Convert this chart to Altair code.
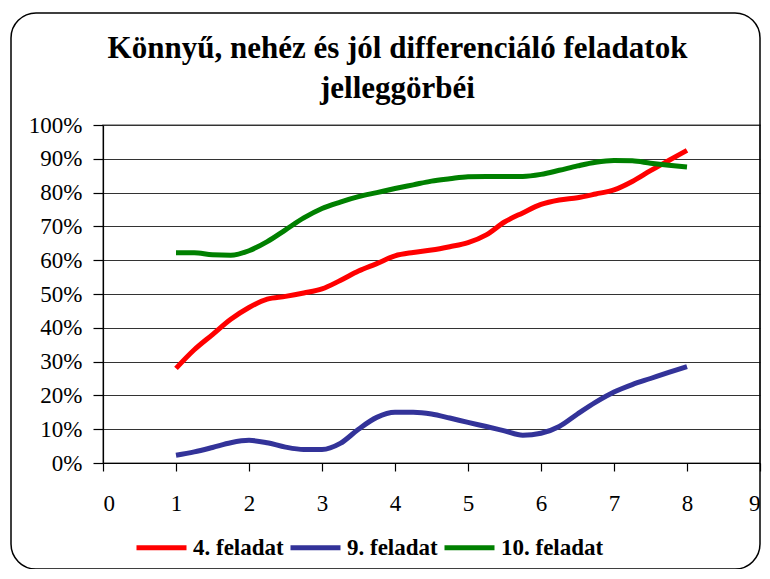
import altair as alt
import pandas as pd

# x positions (quarter steps)
xs = [1, 1.25, 1.5, 1.75, 2, 2.25, 2.5, 2.75, 3, 3.25, 3.5, 3.75, 4, 4.25, 4.5,
      4.75, 5, 5.25, 5.5, 5.75, 6, 6.25, 6.5, 6.75, 7, 7.25, 7.5, 7.75, 8]

series_names = ["4. feladat", "9. feladat", "10. feladat"]
series_colors = ["#FF0000", "#333399", "#008000"]

feladat4 = [28, 33.5, 38, 42.5, 46, 48.5, 49.3, 50.3, 51.5, 54, 56.8, 59, 61.3, 62.3, 63,
            64, 65.2, 67.5, 71.3, 74, 76.5, 77.8, 78.5, 79.6, 80.8, 83.3, 86.5, 89.5, 92.5]
feladat9 = [2.3, 3.3, 4.6, 6, 6.7, 6, 4.7, 4, 4, 5.8, 10, 13.5, 15, 15, 14.5,
            13.3, 12, 10.8, 9.5, 8.2, 8.8, 10.8, 14.5, 18, 21, 23.2, 25, 26.8, 28.5]
feladat10 = [62.2, 62.2, 61.6, 61.5, 62.8, 65.5, 69, 72.5, 75.3, 77.2, 78.8, 80, 81.2, 82.3, 83.4,
             84.1, 84.7, 84.8, 84.8, 84.8, 85.4, 86.6, 87.9, 89, 89.5, 89.4, 88.7, 88.1, 87.6]

x_ticks = [0, 1, 2, 3, 4, 5, 6, 7, 8, 9]
y_ticks = [0, 0.1, 0.2, 0.3, 0.4, 0.5, 0.6, 0.7, 0.8, 0.9, 1.0]

title_lines = ["Könnyű, nehéz és jól differenciáló feladatok", "jelleggörbéi"]

rows = []
for name, vals in zip(series_names, [feladat4, feladat9, feladat10]):
    for i, (x, v) in enumerate(zip(xs, vals)):
        rows.append({"x": x, "value": v / 100.0, "series": name, "order": i})
df = pd.DataFrame(rows)

FONT = "Liberation Serif, Times New Roman, Times, DejaVu Serif, serif"

lines = alt.Chart(df).mark_line(strokeWidth=5, interpolate="monotone").encode(
    x=alt.X("x:Q", scale=alt.Scale(domain=[0, 9], nice=False, zero=False),
            axis=alt.Axis(values=x_ticks, title=None, grid=False, tickSize=8,
                          labelPadding=21, labelAngle=0, format="d",
                          labelFont=FONT)),
    y=alt.Y("value:Q", scale=alt.Scale(domain=[0, 1], nice=False),
            axis=alt.Axis(values=y_ticks, title=None, format=".0%", grid=True,
                          tickSize=10, labelPadding=11, labelFont=FONT)),
    color=alt.Color("series:N",
                    scale=alt.Scale(domain=series_names, range=series_colors),
                    legend=alt.Legend(title=None, orient="none", legendX=31, legendY=395,
                                      direction="horizontal", symbolType="stroke",
                                      symbolStrokeWidth=5, symbolSize=2500,
                                      labelFont=FONT, labelFontSize=23,
                                      labelFontWeight="bold", labelColor="black",
                                      labelOffset=4, columnPadding=-4)),
    detail="series:N",
    order="order:Q",
)

border = alt.Chart(alt.Data(values=[{}])).mark_rect(
    fillOpacity=0, stroke="black", strokeWidth=1.5, cornerRadius=25
).encode(
    x=alt.value(-92), x2=alt.value(657), y=alt.value(-112), y2=alt.value(444)
)

chart = alt.layer(border, lines).properties(
    width=657,
    height=338,
    padding={"left": 95, "top": 117, "right": 2, "bottom": 106},
    autosize=alt.AutoSizeParams(type="none"),
    title=alt.TitleParams(text=title_lines, font=FONT, fontSize=31, fontWeight="bold",
                          lineHeight=40, anchor="middle", dx=-34, dy=97, offset=4,
                          color="black"),
).configure_view(
    stroke="#808080", strokeWidth=1.5
).configure_axis(
    labelFont=FONT, labelFontSize=23, labelColor="black",
    domainColor="black", domainWidth=1.2, tickColor="black", tickWidth=1.2,
    gridColor="#333333", gridWidth=1.2,
)

chart.save("out.html", embed_options={"renderer": "svg", "actions": False})
